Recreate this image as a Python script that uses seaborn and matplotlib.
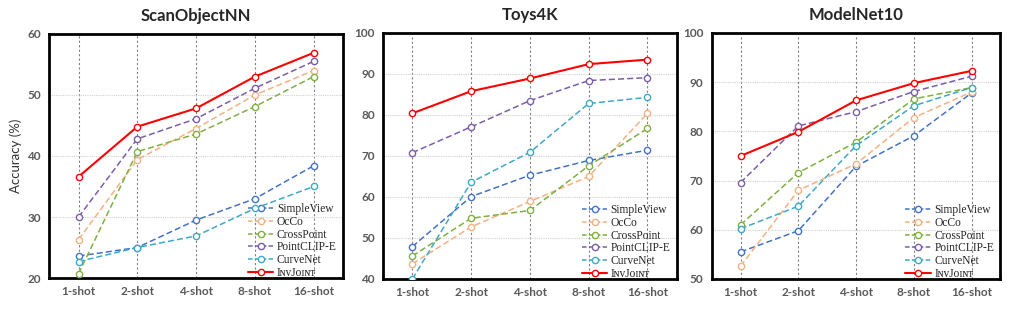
import numpy as np
import pandas as pd
import seaborn as sns
import matplotlib.pyplot as plt
from matplotlib.lines import Line2D

shots = ["1-shot", "2-shot", "4-shot", "8-shot", "16-shot"]
methods = ["SimpleView", "OcCo", "CrossPoint", "PointCLIP-E", "CurveNet", "InvJoint"]

# accuracy (%) per dataset, one list per method
scan_simpleview = [23.6, 25.0, 29.5, 33.0, 38.4]
scan_occo = [26.3, 39.4, 44.5, 50.0, 54.0]
scan_crosspoint = [20.7, 40.7, 43.6, 48.1, 53.0]
scan_pointclip = [30.0, 42.8, 46.1, 51.1, 55.5]
scan_curvenet = [22.7, 25.0, 26.9, 31.4, 35.0]
scan_invjoint = [36.6, 44.8, 47.8, 53.0, 56.9]

toys_simpleview = [47.9, 60.1, 65.3, 68.9, 71.4]
toys_occo = [43.7, 52.7, 58.9, 65.0, 80.4]
toys_crosspoint = [45.6, 54.8, 56.7, 67.6, 76.7]
toys_pointclip = [70.8, 77.1, 83.5, 88.4, 89.1]
toys_curvenet = [40.0, 63.6, 70.9, 82.8, 84.3]
toys_invjoint = [80.4, 85.8, 88.9, 92.4, 93.5]

mn10_simpleview = [55.5, 59.8, 72.9, 79.1, 87.8]
mn10_occo = [52.6, 68.0, 73.4, 82.8, 88.0]
mn10_crosspoint = [61.0, 71.6, 77.8, 86.6, 88.9]
mn10_pointclip = [69.6, 81.1, 84.0, 88.1, 91.2]
mn10_curvenet = [60.2, 64.8, 77.1, 85.2, 88.9]
mn10_invjoint = [75.0, 79.9, 86.3, 89.8, 92.3]

datasets = {
    "ScanObjectNN": [scan_simpleview, scan_occo, scan_crosspoint, scan_pointclip, scan_curvenet, scan_invjoint],
    "Toys4K": [toys_simpleview, toys_occo, toys_crosspoint, toys_pointclip, toys_curvenet, toys_invjoint],
    "ModelNet10": [mn10_simpleview, mn10_occo, mn10_crosspoint, mn10_pointclip, mn10_curvenet, mn10_invjoint],
}
ylims = {"ScanObjectNN": (20, 60), "Toys4K": (40, 100), "ModelNet10": (50, 100)}

colors = ["#4472C4", "#F4B183", "#7FB040", "#7B5EA7", "#3FA9C5", "#FF0000"]
legend_labels = ["SimpleView", "OcCo", "CrossPoint", "PointCLIP-E", "CurveNet",
                 "I\u0274\u1d20J\u1d0f\u026a\u0274\u1d1b"]

sns.set_style("white")
plt.rcParams['font.family'] = ['Lato', 'DejaVu Sans']

fig = plt.figure(figsize=(10.24, 3.11), dpi=100)
boxes = [[0.048, 0.106, 0.287, 0.785],
         [0.374, 0.103, 0.287, 0.791],
         [0.695, 0.103, 0.282, 0.791]]

tick_color = "#595959"
for (name, series), box in zip(datasets.items(), boxes):
    ax = fig.add_axes(box)
    df = pd.DataFrame({"shot": np.tile(np.arange(len(shots)), len(methods)),
                       "acc": np.concatenate(series),
                       "method": np.repeat(methods, len(shots))})
    for i, m in enumerate(methods):
        sub = df[df["method"] == m]
        solid = m == "InvJoint"
        sns.lineplot(data=sub, x="shot", y="acc", ax=ax, color=colors[i],
                     linewidth=1.5 if solid else 1.1,
                     linestyle="-" if solid else (0, (4, 2)),
                     marker="o", markersize=4.5, markerfacecolor="white",
                     markeredgecolor=colors[i], markeredgewidth=1.0, zorder=3 + i)
    lo, hi = ylims[name]
    ax.set_ylim(lo, hi)
    ax.set_yticks(np.arange(lo, hi + 1, 10))
    ax.set_xlim(-0.5, len(shots) - 0.5)
    ax.set_xticks(range(len(shots)))
    ax.set_xticklabels(shots)
    ax.set_xlabel("")
    ax.set_ylabel("Accuracy (%)" if name == "ScanObjectNN" else "", fontsize=9.5, color="#333333")
    ax.set_title(name, fontsize=12, fontweight="bold", pad=9)
    for x in range(len(shots)):
        ax.axvline(x, color="#808080", linestyle=(0, (2, 2)), linewidth=0.8, zorder=1)
    for y in np.arange(lo + 10, hi, 10):
        ax.axhline(y, color="#d0d0d0", linestyle=(0, (1, 1)), linewidth=0.8, zorder=1)
    ax.tick_params(axis="both", labelsize=8.5, colors=tick_color, length=0, pad=6)
    for lab in ax.get_xticklabels() + ax.get_yticklabels():
        lab.set_fontweight("bold")
    for sp in ax.spines.values():
        sp.set_visible(True)
        sp.set_color("black")
        sp.set_linewidth(2)

    handles = [Line2D([], [], color=c, linewidth=1.5 if m == "InvJoint" else 1.1,
                      linestyle="-" if m == "InvJoint" else (0, (3, 1.5)),
                      marker="o", markersize=4.5, markerfacecolor="white", markeredgecolor=c)
               for m, c in zip(methods, colors)]
    ax.legend(handles, legend_labels, loc="lower right", bbox_to_anchor=(1.0, -0.03),
              frameon=False,
              prop={"family": ["Liberation Serif", "DejaVu Serif"], "size": 8.3},
              handlelength=2.2, labelspacing=0.07, handletextpad=0.3,
              borderaxespad=0.15)

fig.savefig("out.png", dpi=100)
